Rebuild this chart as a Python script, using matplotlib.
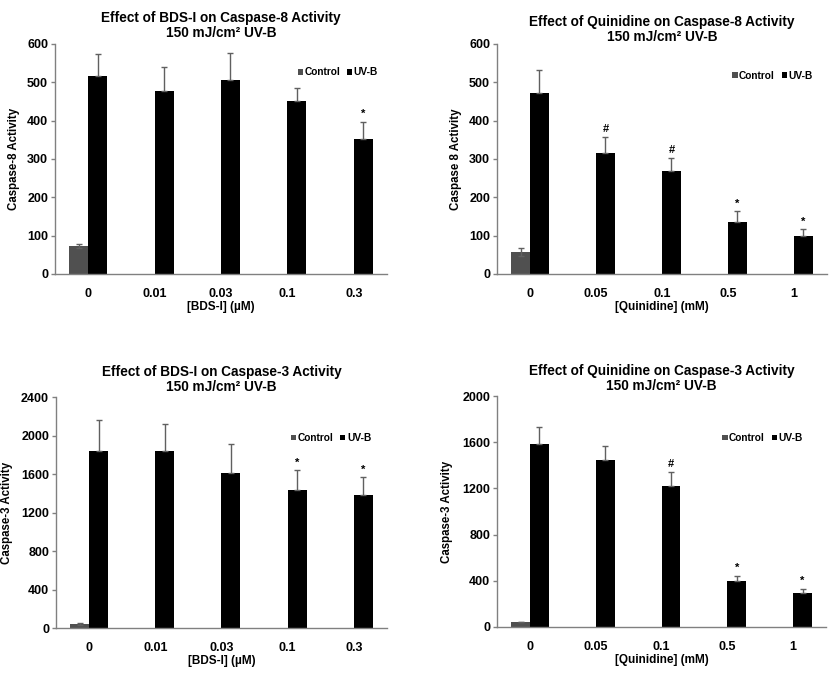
import numpy as np
import matplotlib
matplotlib.use('Agg')
import matplotlib.pyplot as plt

plt.rcParams['font.family'] = ['Liberation Sans', 'DejaVu Sans']
plt.rcParams['font.weight'] = 'bold'
plt.rcParams['axes.labelweight'] = 'bold'
plt.rcParams['axes.titleweight'] = 'bold'

nan = np.nan

# ---- data ----
bds_doses = ['0', '0.01', '0.03', '0.1', '0.3']
quin_doses = ['0', '0.05', '0.1', '0.5', '1']

# caspase-8, BDS-I
bds_c8_ctrl = [72, nan, nan, nan, nan]
bds_c8_ctrl_err = [5, nan, nan, nan, nan]
bds_c8_uvb = [517, 478, 505, 450, 353]
bds_c8_uvb_err = [57, 61, 71, 35, 44]
bds_c8_marks = ['', '', '', '', '*']

# caspase-8, quinidine
quin_c8_ctrl = [58, nan, nan, nan, nan]
quin_c8_ctrl_err = [10, nan, nan, nan, nan]
quin_c8_uvb = [472, 315, 268, 135, 98]
quin_c8_uvb_err = [59, 42, 34, 28, 19]
quin_c8_marks = ['', '#', '#', '*', '*']

# caspase-3, BDS-I
bds_c3_ctrl = [40, nan, nan, nan, nan]
bds_c3_ctrl_err = [8, nan, nan, nan, nan]
bds_c3_uvb = [1843, 1837, 1615, 1430, 1381]
bds_c3_uvb_err = [314, 278, 298, 208, 184]
bds_c3_marks = ['', '', '', '*', '*']

# caspase-3, quinidine
quin_c3_ctrl = [43, nan, nan, nan, nan]
quin_c3_ctrl_err = [0, nan, nan, nan, nan]
quin_c3_uvb = [1583, 1445, 1220, 400, 291]
quin_c3_uvb_err = [147, 123, 121, 43, 37]
quin_c3_marks = ['', '', '#', '*', '*']


def panel(ax, doses, ctrl, ctrl_err, uvb, uvb_err, marks, ymax, ystep,
          title, xlabel, ylabel, tpad, leg_xy, ylab_x):
    x = np.arange(len(doses))
    w = 0.286                                  # bar width (category = 1)
    ax.bar(x - w/2, ctrl, w, color='#505050', label='Control', zorder=2)
    ax.bar(x + w/2, uvb, w, color='black', label='UV-B', zorder=2)
    # control error bars both ways, UV-B only upward
    ax.errorbar(x - w/2, ctrl, yerr=ctrl_err, fmt='none', ecolor='#606060',
                elinewidth=1, capsize=2, capthick=1, zorder=3)
    ax.errorbar(x + w/2, uvb, yerr=[np.zeros(len(uvb)), uvb_err], fmt='none',
                ecolor='#606060', elinewidth=1, capsize=2, capthick=1, zorder=3)
    for i in range(len(doses)):                # significance marks
        if marks[i]:
            ax.text(x[i] + w/2, uvb[i] + uvb_err[i] + ymax*0.012, marks[i],
                    ha='center', va='bottom', fontsize=8, fontweight='bold')
    ax.set_xlim(-0.5, len(doses) - 0.5)
    ax.set_ylim(0, ymax)
    ax.set_yticks(np.arange(0, ymax + 1, ystep))
    ax.set_xticks(x)
    ax.set_xticklabels(doses, fontweight='bold')
    ax.tick_params(axis='x', length=0, pad=10, labelsize=9)
    ax.tick_params(axis='y', length=3, width=1, color='#808080', pad=2,
                   labelsize=9)
    for s in ['top', 'right']:
        ax.spines[s].set_visible(False)
    for s in ['left', 'bottom']:
        ax.spines[s].set_color('#808080')
        ax.spines[s].set_linewidth(1)
    ax.set_title(title, fontsize=9.8, pad=tpad, linespacing=1.1)
    ax.set_xlabel(xlabel, fontsize=8.5, labelpad=1)
    ax.set_ylabel(ylabel, fontsize=8.3)
    ax.yaxis.set_label_coords(ylab_x, 0.5)
    ax.legend(loc='center', bbox_to_anchor=leg_xy,
              bbox_transform=ax.figure.transFigure, ncol=2, frameon=False,
              prop={'size': 7.3, 'weight': 'bold'}, handlelength=0.5,
              handleheight=0.5, handletextpad=0.15, columnspacing=0.7,
              borderpad=0)


fig = plt.figure(figsize=(8.38, 6.76), dpi=100)
ax1 = fig.add_axes([0.0656, 0.5947, 0.3962, 0.3403])
ax2 = fig.add_axes([0.5931, 0.5947, 0.3938, 0.3403])
ax3 = fig.add_axes([0.0668, 0.0710, 0.3950, 0.3417])
ax4 = fig.add_axes([0.5931, 0.0725, 0.3926, 0.3417])

panel(ax1, bds_doses, bds_c8_ctrl, bds_c8_ctrl_err, bds_c8_uvb, bds_c8_uvb_err,
      bds_c8_marks, 600, 100,
      'Effect of BDS-I on Caspase-8 Activity\n150 mJ/cm² UV-B',
      '[BDS-I] (µM)', 'Caspase-8 Activity', 5, (0.403, 0.893), -0.105)
panel(ax2, quin_doses, quin_c8_ctrl, quin_c8_ctrl_err, quin_c8_uvb,
      quin_c8_uvb_err, quin_c8_marks, 600, 100,
      'Effect of Quinidine on Caspase-8 Activity\n150 mJ/cm² UV-B',
      '[Quinidine] (mM)', 'Caspase 8 Activity', 1, (0.922, 0.8876), -0.106)
panel(ax3, bds_doses, bds_c3_ctrl, bds_c3_ctrl_err, bds_c3_uvb, bds_c3_uvb_err,
      bds_c3_marks, 2400, 400,
      'Effect of BDS-I on Caspase-3 Activity\n150 mJ/cm² UV-B',
      '[BDS-I] (µM)', 'Caspase-3 Activity', 4, (0.395, 0.352), -0.13)
panel(ax4, quin_doses, quin_c3_ctrl, quin_c3_ctrl_err, quin_c3_uvb,
      quin_c3_uvb_err, quin_c3_marks, 2000, 400,
      'Effect of Quinidine on Caspase-3 Activity\n150 mJ/cm² UV-B',
      '[Quinidine] (mM)', 'Caspase-3 Activity', 4, (0.910, 0.352), -0.134)

fig.savefig('out.png', dpi=100)
